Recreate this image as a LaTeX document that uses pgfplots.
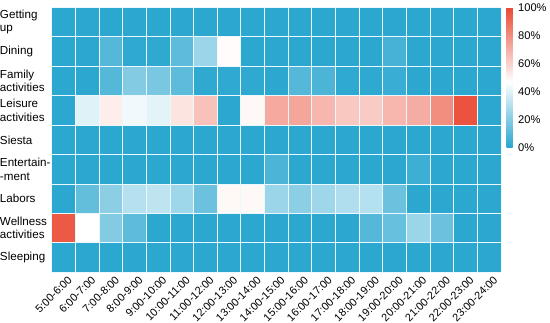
\documentclass[border=0pt]{standalone}
\usepackage{pgfplots}
\pgfplotsset{compat=1.18}
\usepackage{fontspec}
\setmainfont{Liberation Sans}

\begin{document}
\begin{tikzpicture}
\begin{axis}[
    scale only axis,
    width=444pt, height=262pt,
    xmin=-0.5, xmax=18.5, ymin=-0.5, ymax=8.5,
    y dir=reverse,
    enlargelimits=false,
    axis line style={draw=none},
    major tick length=0pt, minor tick length=0pt,
    xtick={0,...,18},
    xticklabels={5:00-6:00,6:00-7:00,7:00-8:00,8:00-9:00,9:00-10:00,10:00-11:00,11:00-12:00,12:00-13:00,13:00-14:00,14:00-15:00,15:00-16:00,16:00-17:00,17:00-18:00,18:00-19:00,19:00-20:00,20:00-21:00,21:00-22:00,22:00-23:00,23:00-24:00},
    ytick={0,...,8},
    yticklabels={{Getting\\up},Dining,{Family\\activities},{Leisure\\activities},Siesta,{Entertain-\\-ment},Labors,{Wellness\\activities},Sleeping},
    xticklabel style={font=\fontsize{10.8}{12}\selectfont, rotate=45, anchor=north east, inner sep=0.5pt, xshift=1pt, yshift=-4pt},
    yticklabel style={font=\fontsize{11.5}{13}\selectfont, align=left, text width=50pt, inner sep=0pt, anchor=east, xshift=-1pt},
    minor xtick={-0.5,0.5,...,18.5},
    minor ytick={-0.5,0.5,...,8.5},
    xminorgrids, yminorgrids,
    minor grid style={white!92!cyan, line width=0.9pt},
    axis on top,
    colormap={heat}{rgb255(0cm)=(39,165,207); rgb255(47cm)=(255,255,255); rgb255(100cm)=(234,73,51)},
    point meta min=0, point meta max=100,
    colorbar,
    colorbar shift/.style={xshift=5pt},
    colorbar style={
        width=6pt, height=139pt,
        ytick={0,20,...,100},
        yticklabel={\pgfmathprintnumber[assume math mode=true]{\tick}\%},
        yticklabel style={font=\fontsize{11}{13}\selectfont, xshift=2pt},
        axis line style={draw=none},
        major tick length=0pt,
    },
]
\addplot[matrix plot*, mesh/cols=19, point meta=explicit] coordinates {
(0,0)[1] (1,0)[1] (2,0)[1] (3,0)[1] (4,0)[1] (5,0)[1] (6,0)[1] (7,0)[1] (8,0)[1] (9,0)[1] (10,0)[1] (11,0)[1] (12,0)[1] (13,0)[1] (14,0)[1] (15,0)[1] (16,0)[1] (17,0)[1] (18,0)[1]
(0,1)[1] (1,1)[1] (2,1)[10] (3,1)[2] (4,1)[2] (5,1)[12] (6,1)[25] (7,1)[48] (8,1)[1] (9,1)[1] (10,1)[1] (11,1)[1] (12,1)[1] (13,1)[1] (14,1)[7] (15,1)[1] (16,1)[1] (17,1)[1] (18,1)[1]
(0,2)[1] (1,2)[1] (2,2)[10] (3,2)[20] (4,2)[18] (5,2)[12] (6,2)[2] (7,2)[2] (8,2)[2] (9,2)[1] (10,2)[10] (11,2)[8] (12,2)[2] (13,2)[2] (14,2)[4] (15,2)[1] (16,2)[1] (17,2)[1] (18,2)[1]
(0,3)[1] (1,3)[40] (2,3)[52] (3,3)[44] (4,3)[41] (5,3)[55] (6,3)[65] (7,3)[1] (8,3)[49] (9,3)[72] (10,3)[73] (11,3)[68] (12,3)[63] (13,3)[62] (14,3)[68] (15,3)[71] (16,3)[80] (17,3)[97] (18,3)[1]
(0,4)[1] (1,4)[1] (2,4)[1] (3,4)[1] (4,4)[1] (5,4)[1] (6,4)[1] (7,4)[1] (8,4)[1] (9,4)[1] (10,4)[1] (11,4)[1] (12,4)[1] (13,4)[1] (14,4)[1] (15,4)[1] (16,4)[1] (17,4)[1] (18,4)[1]
(0,5)[1] (1,5)[1] (2,5)[1] (3,5)[1] (4,5)[1] (5,5)[1] (6,5)[1] (7,5)[1] (8,5)[1] (9,5)[8] (10,5)[1] (11,5)[1] (12,5)[1] (13,5)[1] (14,5)[1] (15,5)[5] (16,5)[1] (17,5)[1] (18,5)[1]
(0,6)[1] (1,6)[13] (2,6)[22] (3,6)[31] (4,6)[33] (5,6)[26] (6,6)[15] (7,6)[49] (8,6)[49] (9,6)[25] (10,6)[22] (11,6)[26] (12,6)[30] (13,6)[31] (14,6)[15] (15,6)[1] (16,6)[1] (17,6)[1] (18,6)[1]
(0,7)[95] (1,7)[47] (2,7)[20] (3,7)[12] (4,7)[1] (5,7)[1] (6,7)[1] (7,7)[1] (8,7)[1] (9,7)[1] (10,7)[1] (11,7)[1] (12,7)[1] (13,7)[10] (14,7)[14] (15,7)[25] (16,7)[15] (17,7)[1] (18,7)[1]
(0,8)[1] (1,8)[1] (2,8)[1] (3,8)[1] (4,8)[1] (5,8)[1] (6,8)[1] (7,8)[1] (8,8)[1] (9,8)[1] (10,8)[1] (11,8)[1] (12,8)[1] (13,8)[1] (14,8)[1] (15,8)[1] (16,8)[1] (17,8)[1] (18,8)[1]
};
\end{axis}
\end{tikzpicture}
\end{document}
